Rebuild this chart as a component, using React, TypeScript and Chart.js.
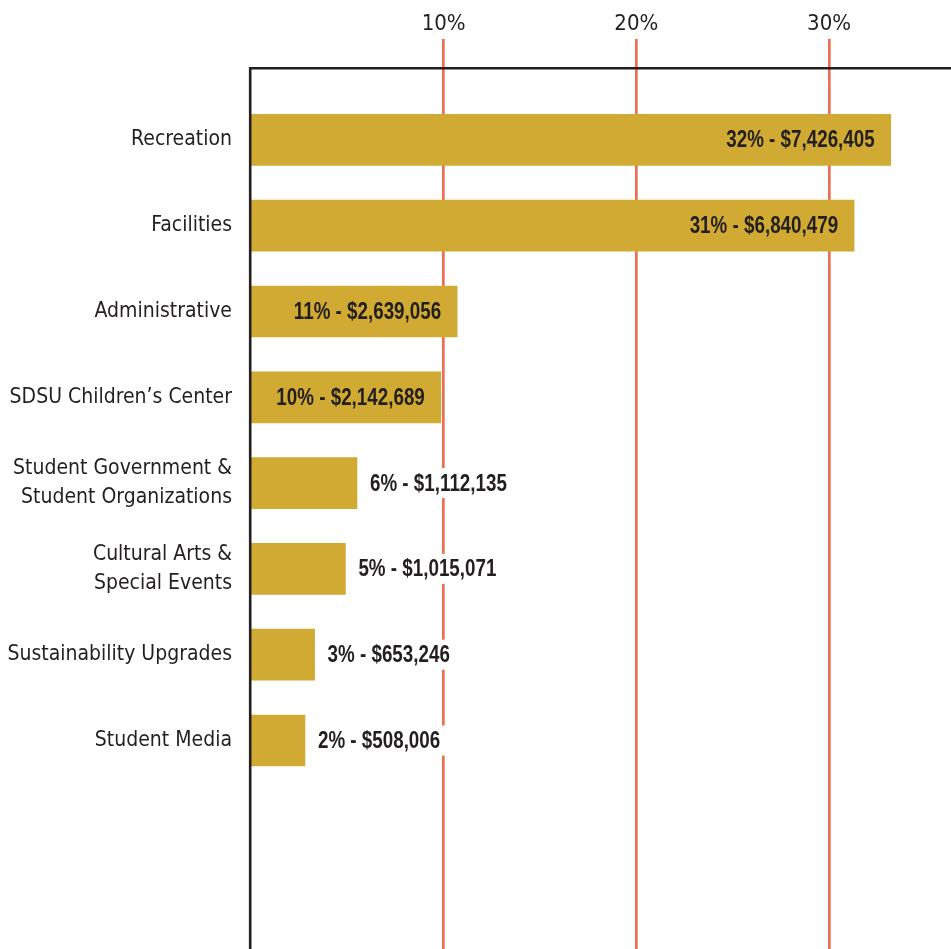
import { useEffect, useRef } from "react";
import { Chart, registerables } from "chart.js";

Chart.register(...registerables);

const categories: (string | string[])[] = [
  "Recreation",
  "Facilities",
  "Administrative",
  "SDSU Children’s Center",
  ["Student Government &", "Student Organizations"],
  ["Cultural Arts &", "Special Events"],
  "Sustainability Upgrades",
  "Student Media",
];
const barLengths = [33.2, 31.3, 10.7, 9.85, 5.5, 4.9, 3.3, 2.8];
const percentLabels = ["32%", "31%", "11%", "10%", "6%", "5%", "3%", "2%"];
const amountLabels = [
  "$7,426,405",
  "$6,840,479",
  "$2,639,056",
  "$2,142,689",
  "$1,112,135",
  "$1,015,071",
  "$653,246",
  "$508,006",
];
const blankRows = ["", ""];
const xTicks = [10, 20, 30];

const DARK = "#231f20";
const GOLD = "#d1aa33";
const RED = "#ec6f53";
const AXIS_FONT = '"DejaVu Sans Condensed", "Liberation Sans", sans-serif';
const VALUE_FONT = '"Liberation Sans", Arial, sans-serif';
const VALUE_SQUEEZE = 0.8;

const decorPlugin = {
  id: "decor",
  afterDatasetsDraw(chart: any) {
    const ctx = chart.ctx as CanvasRenderingContext2D;
    const meta = chart.getDatasetMeta(0);
    ctx.save();
    ctx.font = `bold 23.5px ${VALUE_FONT}`;
    ctx.textBaseline = "middle";
    meta.data.forEach((bar: any, i: number) => {
      if (i >= percentLabels.length) return;
      const text = `${percentLabels[i]} - ${amountLabels[i]}`;
      const { x, y } = bar.getProps(["x", "y"], true);
      const w = ctx.measureText(text).width * VALUE_SQUEEZE;
      if (barLengths[i] >= 9) {
        ctx.save();
        ctx.translate(x - 16, y + 1);
        ctx.scale(VALUE_SQUEEZE, 1);
        ctx.textAlign = "right";
        ctx.fillStyle = DARK;
        ctx.fillText(text, 0, 0);
        ctx.restore();
      } else {
        ctx.fillStyle = "#ffffff";
        ctx.fillRect(x + 8, y - 15, w + 10, 30);
        ctx.save();
        ctx.translate(x + 13, y + 1);
        ctx.scale(VALUE_SQUEEZE, 1);
        ctx.textAlign = "left";
        ctx.fillStyle = DARK;
        ctx.fillText(text, 0, 0);
        ctx.restore();
      }
    });
    ctx.restore();
  },
  afterDraw(chart: any) {
    const ctx = chart.ctx as CanvasRenderingContext2D;
    const area = chart.chartArea;
    ctx.save();
    ctx.strokeStyle = DARK;
    ctx.lineWidth = 2.6;
    const lineY = area.top - 28.7;
    const lineX = area.left - 0.8;
    ctx.beginPath();
    ctx.moveTo(lineX - 1.3, lineY);
    ctx.lineTo(chart.width, lineY);
    ctx.moveTo(lineX, lineY);
    ctx.lineTo(lineX, chart.height);
    ctx.stroke();
    ctx.restore();
  },
};

export default function App() {
  const canvasRef = useRef<HTMLCanvasElement | null>(null);

  useEffect(() => {
    if (!canvasRef.current) return;
    const chart = new Chart(canvasRef.current, {
      type: "bar",
      data: {
        labels: [...categories, ...blankRows] as any,
        datasets: [
          {
            data: [...barLengths, null, null] as any,
            backgroundColor: GOLD,
            barThickness: 51,
            borderWidth: 0,
          },
        ],
      },
      options: {
        indexAxis: "y",
        animation: false,
        responsive: true,
        maintainAspectRatio: false,
        layout: { padding: 0 },
        plugins: {
          legend: { display: false },
          tooltip: { enabled: false },
        },
        scales: {
          x: {
            type: "linear",
            position: "top",
            min: 0,
            max: 36.33,
            afterBuildTicks: (scale: any) => {
              scale.ticks = xTicks.map((v) => ({ value: v }));
            },
            afterFit: (scale: any) => {
              scale.height = 97;
              scale.paddingLeft = 0;
              scale.paddingRight = 0;
            },
            border: { display: false },
            grid: {
              color: RED,
              tickColor: RED,
              lineWidth: 2.7,
              drawTicks: true,
              tickLength: 58,
            },
            ticks: {
              padding: 2,
              color: DARK,
              font: { family: AXIS_FONT, size: 22 },
              callback: (v: any) => `${v}%`,
              maxRotation: 0,
            },
          },
          y: {
            type: "category",
            afterFit: (scale: any) => {
              scale.width = 251;
              scale.paddingTop = 0;
              scale.paddingBottom = 0;
            },
            border: { display: false },
            grid: { display: false, drawTicks: false },
            ticks: {
              padding: 19,
              color: DARK,
              font: { family: AXIS_FONT, size: 21, lineHeight: 1.4 },
              autoSkip: false,
            },
          },
        },
      },
      plugins: [decorPlugin],
    });
    return () => chart.destroy();
  }, []);

  return (
    <div
      style={{
        position: "fixed",
        left: 0,
        top: 0,
        width: 951,
        height: 949,
        overflow: "hidden",
        background: "#ffffff",
      }}
    >
      <div style={{ position: "relative", width: 951, height: 955 }}>
        <canvas ref={canvasRef} />
      </div>
    </div>
  );
}
